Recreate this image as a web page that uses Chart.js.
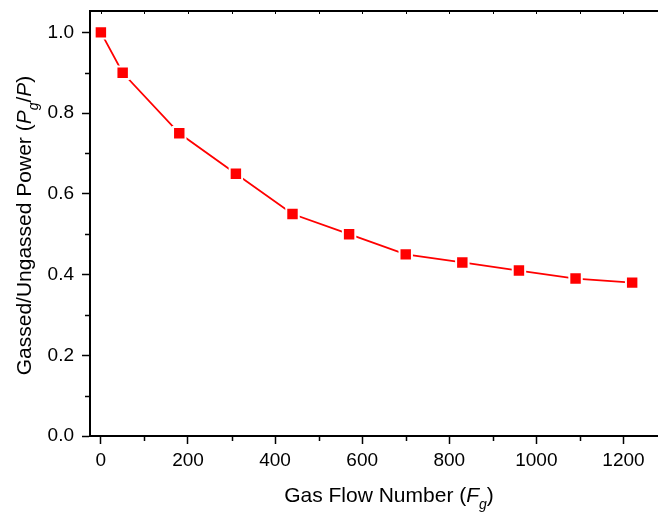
<!DOCTYPE html>
<html>
<head>
<meta charset="utf-8">
<title>Gassed power vs gas flow number</title>
<script src="https://cdn.jsdelivr.net/npm/chart.js@4.4.1/dist/chart.umd.min.js"></script>
<style>
  html, body { margin: 0; padding: 0; background: #fff; overflow: hidden; }
  #wrap { position: absolute; left: 0; top: 0; width: 680px; height: 513px; }
</style>
</head>
<body>
<div id="wrap"><canvas id="powerChart" width="680" height="513"></canvas></div>
<script>
// measured power ratio against gas flow number
const flowNumber = [0, 50, 180, 310, 440, 570, 700, 830, 960, 1090, 1220];
const powerRatio = [1.0, 0.9, 0.75, 0.65, 0.55, 0.5, 0.45, 0.43, 0.41, 0.39, 0.38];

// axis ticks
const xMajorTicks = [0, 200, 400, 600, 800, 1000, 1200];
const xMinorTicks = [100, 300, 500, 700, 900, 1100];
const yMajorTicks = [0.0, 0.2, 0.4, 0.6, 0.8, 1.0];
const yMinorTicks = [0.1, 0.3, 0.5, 0.7, 0.9];

// axis titles, split into runs so the symbols can be italic / subscript
const xTitleRuns = [
  { text: 'Gas Flow Number (' },
  { text: 'F', italic: true },
  { text: 'g', italic: true, sub: true },
  { text: ')' }
];
const yTitleRuns = [
  { text: 'Gassed/Ungassed Power (' },
  { text: 'P', italic: true },
  { text: 'g', italic: true, sub: true },
  { text: '/' },
  { text: 'P', italic: true },
  { text: ')' }
];

const FONT = '"Liberation Sans", Arial, Helvetica, sans-serif';

function runFont(r) {
  const size = r.sub ? 14 : 21;
  return (r.italic ? 'italic ' : '') + size + 'px ' + FONT;
}

// draws a line of mixed-style text centred on (0,0) of the current transform
function drawRuns(ctx, runs) {
  let total = 0;
  runs.forEach(r => { ctx.font = runFont(r); total += ctx.measureText(r.text).width; });
  let x = -total / 2;
  runs.forEach(r => {
    ctx.font = runFont(r);
    ctx.fillText(r.text, x, r.sub ? 7 : 0);
    x += ctx.measureText(r.text).width;
  });
}

// minor ticks, top frame line and the axis titles
const decorPlugin = {
  id: 'decor',
  afterDraw(chart) {
    const ctx = chart.ctx;
    const xs = chart.scales.x, ys = chart.scales.y;
    const area = chart.chartArea;
    ctx.save();
    ctx.strokeStyle = '#000';
    ctx.lineWidth = 1.5;
    ctx.beginPath();
    xMinorTicks.forEach(v => {
      const px = Math.round(xs.getPixelForValue(v)) + 0.5;
      ctx.moveTo(px, area.bottom);
      ctx.lineTo(px, area.bottom + 5);
    });
    yMinorTicks.forEach(v => {
      const py = Math.round(ys.getPixelForValue(v)) + 0.5;
      ctx.moveTo(area.left, py);
      ctx.lineTo(area.left - 5, py);
    });
    ctx.stroke();

    // top frame with small inward ticks
    ctx.lineWidth = 2;
    ctx.beginPath();
    ctx.moveTo(area.left, area.top);
    ctx.lineTo(area.right, area.top);
    ctx.stroke();
    ctx.lineWidth = 1;
    ctx.beginPath();
    xMajorTicks.concat(xMinorTicks).forEach(v => {
      const px = Math.round(xs.getPixelForValue(v)) + 0.5;
      ctx.moveTo(px, area.top);
      ctx.lineTo(px, area.top + 3);
    });
    ctx.stroke();

    ctx.fillStyle = '#000';
    ctx.textBaseline = 'alphabetic';
    ctx.textAlign = 'left';

    ctx.save();
    ctx.translate(389, 501.5);
    drawRuns(ctx, xTitleRuns);
    ctx.restore();

    ctx.save();
    ctx.translate(31, (area.top + area.bottom) / 2 + 2);
    ctx.rotate(-Math.PI / 2);
    drawRuns(ctx, yTitleRuns);
    ctx.restore();

    ctx.restore();
  }
};

const ctx = document.getElementById('powerChart').getContext('2d');
new Chart(ctx, {
  type: 'line',
  data: {
    datasets: [{
      data: flowNumber.map((f, i) => ({ x: f, y: powerRatio[i] })),
      borderColor: '#ff0000',
      borderWidth: 1.8,
      backgroundColor: '#ff0000',
      pointStyle: 'rect',
      pointRadius: 8.8,
      pointBorderColor: '#ffffff',
      pointBorderWidth: 2,
      pointBackgroundColor: '#ff0000',
      tension: 0
    }]
  },
  options: {
    responsive: false,
    animation: false,
    devicePixelRatio: 1,
    layout: { padding: { top: 11, right: 13, bottom: 0, left: 0 } },
    plugins: { legend: { display: false }, tooltip: { enabled: false } },
    scales: {
      x: {
        type: 'linear',
        min: -25,
        max: 1300,
        afterBuildTicks: s => { s.ticks = xMajorTicks.map(v => ({ value: v })); },
        afterFit: s => { s.height = 77; s.paddingLeft = 0; s.paddingRight = 0; },
        border: { display: true, color: '#000', width: 2 },
        grid: { drawOnChartArea: false, drawTicks: true, tickLength: 8, tickWidth: 1.5, tickColor: '#000' },
        ticks: {
          color: '#000',
          padding: 5,
          maxRotation: 0,
          font: { family: FONT, size: 19 },
          callback: v => String(v)
        }
      },
      y: {
        type: 'linear',
        min: 0,
        max: 1.053,
        afterBuildTicks: s => { s.ticks = yMajorTicks.map(v => ({ value: v })); },
        afterFit: s => { s.width = 90; s.paddingTop = 0; s.paddingBottom = 0; },
        border: { display: true, color: '#000', width: 2 },
        grid: { drawOnChartArea: false, drawTicks: true, tickLength: 8, tickWidth: 1.5, tickColor: '#000' },
        ticks: {
          color: '#000',
          padding: 8,
          font: { family: FONT, size: 19 },
          callback: v => v.toFixed(1)
        }
      }
    }
  },
  plugins: [decorPlugin]
});
</script>
</body>
</html>
